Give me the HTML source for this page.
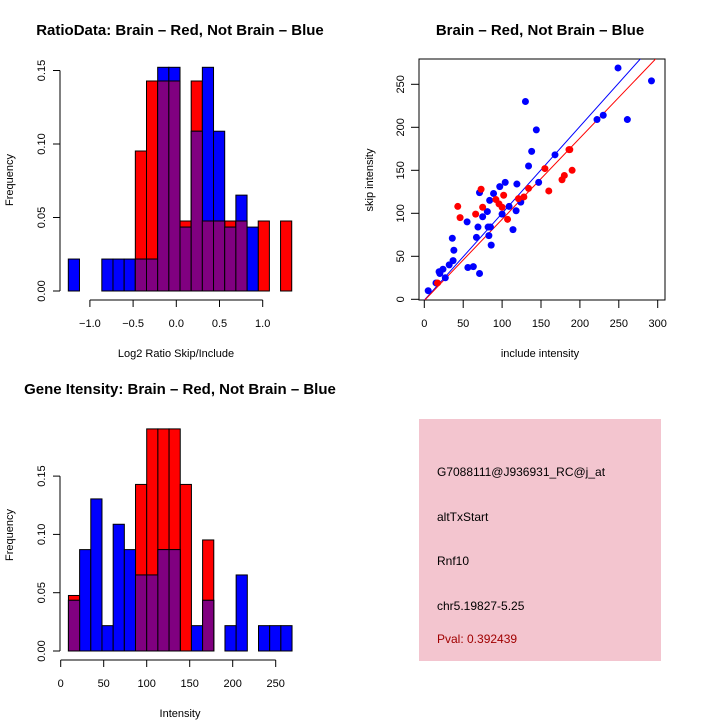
<!DOCTYPE html>
<html><head><meta charset="utf-8"><style>
body{margin:0;background:#fff;}
svg{display:block;font-family:"Liberation Sans",sans-serif;}
</style></head><body>
<svg id="chart" width="720" height="720" viewBox="0 0 720 720">
<g id="g1"></g>
<g id="g2"></g>
<g id="g3"></g>
<g>
<rect x="419" y="419" width="242" height="242" fill="#f3c5cf"/>
<text x="437" y="476" font-size="12">G7088111@J936931_RC@j_at</text>
<text x="437" y="521" font-size="12">altTxStart</text>
<text x="437" y="565" font-size="12">Rnf10</text>
<text x="437" y="610" font-size="12">chr5.19827-5.25</text>
<text x="437" y="643" font-size="12" fill="#a00000">Pval: 0.392439</text>
</g>
</svg>
<script>
// ---- top-left histogram data ----
const ratioRedCounts = [0,0,0,0,0,0,2,3,3,3,1,3,1,1,1,1,0,1,0,1];
const ratioBlueCounts = [1,0,0,1,1,1,1,1,7,7,2,5,7,5,2,3,2,0,0,0];
const ratioXTicks = [-1.0,-0.5,0.0,0.5,1.0];
const ratioXTickLabels = ["\u22121.0","\u22120.5","0.0","0.5","1.0"];
const ratioYTicks = [0,0.05,0.10,0.15];
const ratioYTickLabels = ["0.00","0.05","0.10","0.15"];
// ---- bottom-left histogram data ----
const intRedCounts = [1,0,0,0,0,0,3,4,4,4,3,0,2,0,0,0,0,0,0,0];
const intBlueCounts = [2,4,6,1,5,4,3,3,4,4,0,1,2,0,1,3,0,1,1,1];
const intXTicks = [0,50,100,150,200,250];
const intXTickLabels = ["0","50","100","150","200","250"];
const intYTicks = [0,0.05,0.10,0.15];
const intYTickLabels = ["0.00","0.05","0.10","0.15"];
// ---- scatter data ----
const blueX = [5,15,19,20,24,27,32,37,38,36,55,56,63,71,67,69,75,81,82,85,83,86,71,84,89,97,104,100,109,114,118,119,124,130,134,138,144,147,168,222,230,249,261,292];
const blueY = [10,19,32,30,35,25,40,45,57,71,90,37,38,30,72,84,96,102,84,84,74,63,124,115,123,131,136,99,108,81,103,134,113,230,155,172,197,136,168,209,214,269,209,254];
const redX = [17,43,46,66,73,75,92,96,100,102,107,121,128,134,155,160,177,180,186,187,190];
const redY = [19,108,95,99,128,107,116,111,107,121,93,117,119,129,152,126,139,144,174,174,150];
const scatXTicks = [0,50,100,150,200,250,300];
const scatYTicks = [0,50,100,150,200,250];
const blueFit = [-1, 1.01];
const redFit = [-1.5, 0.945];

const NS="http://www.w3.org/2000/svg";
function mk(parent,tag,attrs,txt){const e=document.createElementNS(NS,tag);for(const k in attrs)e.setAttribute(k,attrs[k]);if(txt!==undefined)e.textContent=txt;parent.appendChild(e);return e;}

function histogram(g,o){
  const sx=v=>o.x0+(v-o.v0)*o.kx, sy=f=>o.base-f*o.ky;
  const draw=(counts,n,col,nm,other,otherN)=>{
    counts.forEach((c,i)=>{
      let f=c/n;
      if(other){f=Math.min(c/n,other[i]/otherN);}
      if(f<=0)return;
      const l=sx(o.start+i*o.w), r=sx(o.start+(i+1)*o.w);
      const el=mk(g,'rect',{x:l,y:sy(f),width:r-l,height:o.base-sy(f),fill:col,stroke:'#000','stroke-width':1});
      
      
    });
  };
  draw(o.red,o.nR,'#ff0000','red');
  draw(o.blue,o.nB,'#0000ff','blue');
  draw(o.red,o.nR,'#800080','overlap',o.blue,o.nB);
  const ya=mk(g,'g',{});
  
  
  mk(ya,'line',{x1:o.ax,x2:o.ax,y1:sy(o.yt[0]),y2:sy(o.yt[o.yt.length-1]),stroke:'#000'});
  o.yt.forEach((t,i)=>{const y=sy(t);mk(ya,'line',{x1:o.ax-7,x2:o.ax,y1:y,y2:y,stroke:'#000'});
    const tx=mk(ya,'text',{x:0,y:0,'font-size':11,'text-anchor':'middle',transform:`translate(${o.ax-15},${y}) rotate(-90)`},o.ytl[i]);
    
    });
  const xa=mk(g,'g',{});
  
  
  const ay=o.axY;
  mk(xa,'line',{x1:sx(o.xt[0]),x2:sx(o.xt[o.xt.length-1]),y1:ay,y2:ay,stroke:'#000'});
  o.xt.forEach((t,i)=>{const x=sx(t);mk(xa,'line',{x1:x,x2:x,y1:ay,y2:ay+7,stroke:'#000'});
    const tx=mk(xa,'text',{x:x,y:ay+27,'font-size':11,'text-anchor':'middle'},o.xtl[i]);
    
    });
  const t=mk(g,'text',{x:o.tx,y:o.ty,'font-size':15,'font-weight':'bold','text-anchor':'middle'},o.title);
  
  const xl=mk(g,'text',{x:o.xlx,y:o.xly,'font-size':11,'text-anchor':'middle'},o.xlab);
  
  const yl=mk(g,'text',{x:0,y:0,'font-size':11,'text-anchor':'middle',transform:`translate(13,${o.yly}) rotate(-90)`},'Frequency');
  
}

histogram(document.getElementById('g1'),{red:ratioRedCounts,blue:ratioBlueCounts,nR:21,nB:46,
  start:-1.25,w:0.1293,v0:0,x0:176.3,kx:86.4,base:291,ky:1470,
  xt:ratioXTicks,xtl:ratioXTickLabels,yt:ratioYTicks,ytl:ratioYTickLabels,ax:60,axY:300,
  title:'RatioData: Brain \u2013 Red, Not Brain \u2013 Blue',tx:180,ty:35,xlab:'Log2 Ratio Skip/Include',xlx:176,xly:357,yly:180});
histogram(document.getElementById('g3'),{red:intRedCounts,blue:intBlueCounts,nR:21,nB:46,
  start:9,w:13,v0:0,x0:60.7,kx:0.86,base:651,ky:1166,
  xt:intXTicks,xtl:intXTickLabels,yt:intYTicks,ytl:intYTickLabels,ax:60,axY:660,
  title:'Gene Itensity: Brain \u2013 Red, Not Brain \u2013 Blue',tx:180,ty:394,xlab:'Intensity',xlx:180,xly:717,yly:535});

(function(){
  const g=document.getElementById('g2');
  const sx=d=>424.3+d*0.778, sy=d=>299.3-d*0.86;
  const L=419,R=665,T=59,B=300;
  const cp=mk(g,'clipPath',{id:'sc'});
  mk(cp,'rect',{x:L,y:T,width:R-L,height:B-T});
  const bx=mk(g,'rect',{x:L,y:T,width:R-L,height:B-T,fill:'none',stroke:'#000'});
  
  const pts=mk(g,'g',{'clip-path':'url(#sc)'});
  [[blueFit,'#0000ff','blue-fit-line'],[redFit,'#ff0000','red-fit-line']].forEach(([f,c,n])=>{
    const ln=mk(pts,'line',{x1:sx(-5),y1:sy(f[0]+f[1]*-5),x2:sx(320),y2:sy(f[0]+f[1]*320),stroke:c,'stroke-width':1});
    
  });
  blueX.forEach((x,i)=>{const c=mk(pts,'circle',{cx:sx(x),cy:sy(blueY[i]),r:3.5,fill:'#0000ff'});
    });
  redX.forEach((x,i)=>{const c=mk(pts,'circle',{cx:sx(x),cy:sy(redY[i]),r:3.5,fill:'#ff0000'});
    });
  scatXTicks.forEach(t=>{const x=sx(t);mk(g,'line',{x1:x,x2:x,y1:B,y2:B+8,stroke:'#000'});
    const tx=mk(g,'text',{x:x,y:B+27,'font-size':11,'text-anchor':'middle'},String(t));
    });
  scatYTicks.forEach(t=>{const y=sy(t);mk(g,'line',{x1:L-8,x2:L,y1:y,y2:y,stroke:'#000'});
    const tx=mk(g,'text',{x:0,y:0,'font-size':11,'text-anchor':'middle',transform:`translate(${L-15},${y}) rotate(-90)`},String(t));
    });
  const t=mk(g,'text',{x:540,y:35,'font-size':15,'font-weight':'bold','text-anchor':'middle'},'Brain \u2013 Red, Not Brain \u2013 Blue');
  
  const xl=mk(g,'text',{x:540,y:357,'font-size':11,'text-anchor':'middle'},'include intensity');
  
  const yl=mk(g,'text',{x:0,y:0,'font-size':11,'text-anchor':'middle',transform:`translate(373,180) rotate(-90)`},'skip intensity');
  
})();
</script>
</body></html>
